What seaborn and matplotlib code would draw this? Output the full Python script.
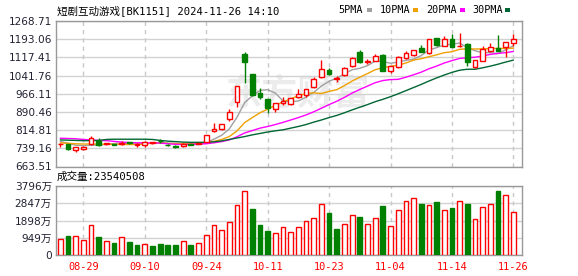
import numpy as np
import pandas as pd
import matplotlib
matplotlib.use("Agg")
import matplotlib.pyplot as plt
import seaborn as sns
from matplotlib.patches import Rectangle

# ---------------- data ----------------
dates = ["08-26", "08-27", "08-28", "08-29", "08-30",
         "09-02", "09-03", "09-04", "09-05", "09-06",
         "09-09", "09-10", "09-11", "09-12", "09-13",
         "09-18", "09-19", "09-20",
         "09-23", "09-24", "09-25", "09-26", "09-27", "09-30",
         "10-08", "10-09", "10-10", "10-11",
         "10-14", "10-15", "10-16", "10-17", "10-18",
         "10-21", "10-22", "10-23", "10-24", "10-25",
         "10-28", "10-29", "10-30", "10-31", "11-01",
         "11-04", "11-05", "11-06", "11-07", "11-08",
         "11-11", "11-12", "11-13", "11-14", "11-15",
         "11-18", "11-19", "11-20", "11-21", "11-22",
         "11-25", "11-26"]

opens = [756, 757, 732, 737, 756, 770, 757, 757, 759, 764,
         755, 755, 761, 771, 754, 747, 748, 757, 759, 766,
         810, 818, 860, 932, 1131, 1048, 970, 944, 904, 928,
         923, 951, 960, 993, 1035, 1065, 1028, 1044, 1081, 1141,
         1099, 1103, 1128, 1062, 1076, 1116, 1126, 1158, 1134, 1198,
         1165, 1194, 1163, 1173, 1078, 1103, 1145, 1155, 1159, 1176]
highs = [763, 759, 745, 748, 792, 782, 762, 758, 770, 766,
         760, 768, 766, 778, 756, 752, 760, 759, 762, 796,
         843, 840, 903, 1000, 1138, 1050, 990, 946, 928, 951,
         950, 986, 986, 1037, 1106, 1075, 1040, 1076, 1118, 1148,
         1110, 1131, 1130, 1083, 1122, 1145, 1150, 1169, 1195, 1200,
         1207, 1214, 1218, 1178, 1108, 1165, 1178, 1210, 1183, 1214]
lows = [746, 734, 722, 733, 754, 750, 755, 752, 755, 758,
        745, 743, 758, 762, 750, 740, 743, 753, 756, 764,
        808, 815, 854, 912, 1010, 958, 946, 887, 889, 918,
        921, 949, 954, 990, 1032, 1044, 1015, 1042, 1079, 1092,
        1090, 1101, 1060, 1051, 1074, 1110, 1124, 1138, 1132, 1165,
        1163, 1160, 1160, 1083, 1075, 1101, 1140, 1142, 1117, 1165]
closes = [756, 736, 743, 746, 781, 752, 760, 755, 760, 760,
          755, 765, 764, 769, 751, 745, 758, 755, 760, 794,
          819, 839, 889, 998, 1099, 962, 951, 905, 926, 935,
          948, 965, 984, 1026, 1068, 1047, 1030, 1072, 1114, 1097,
          1101, 1124, 1062, 1081, 1120, 1137, 1148, 1140, 1193, 1170,
          1193, 1162, 1165, 1100, 1106, 1151, 1162, 1144, 1181, 1194]

ma5 = [768, 760, 752, 750, 752, 752, 756, 759, 762, 757,
       758, 759, 761, 763, 761, 759, 758, 756, 754, 763,
       777, 793, 820, 868, 929, 957, 980, 983, 969, 936,
       933, 936, 952, 972, 998, 1018, 1031, 1049, 1066, 1072,
       1083, 1102, 1100, 1093, 1098, 1105, 1110, 1125, 1148, 1158,
       1169, 1172, 1177, 1158, 1145, 1137, 1137, 1133, 1149, 1166]
ma10 = [762, 760, 758, 757, 757, 756, 756, 756, 755, 755,
        755, 758, 760, 762, 759, 759, 759, 759, 759, 762,
        768, 776, 788, 811, 846, 867, 887, 902, 918, 932,
        945, 958, 967, 970, 967, 976, 983, 1000, 1019, 1035,
        1050, 1066, 1074, 1080, 1085, 1094, 1106, 1112, 1120, 1128,
        1137, 1141, 1151, 1153, 1152, 1153, 1154, 1155, 1154, 1156]
ma20 = [781, 780, 779, 776, 774, 772, 771, 768, 765, 763,
        762, 762, 761, 761, 758, 756, 755, 756, 757, 758,
        762, 767, 774, 787, 803, 813, 823, 830, 838, 847,
        857, 867, 878, 891, 906, 921, 935, 951, 969, 984,
        998, 1012, 1021, 1025, 1026, 1035, 1045, 1056, 1070, 1081,
        1094, 1104, 1113, 1116, 1118, 1123, 1130, 1134, 1137, 1142]
ma30 = [774, 773, 772, 771, 771, 772, 776, 777, 777, 777,
        777, 777, 776, 772, 769, 767, 765, 764, 764, 764,
        766, 770, 776, 782, 788, 795, 801, 807, 812, 816,
        823, 830, 838, 848, 857, 867, 876, 887, 899, 910,
        921, 933, 943, 954, 966, 979, 992, 1005, 1019, 1032,
        1044, 1055, 1064, 1068, 1068, 1074, 1081, 1089, 1098, 1106]

volumes = [877, 1058, 1041, 838, 1660, 1003, 784, 674, 986, 729,
           564, 619, 510, 619, 564, 564, 784, 564, 674, 1112,
           1660, 1386, 1808, 2756, 3507, 2537, 1660, 1332, 1204, 1533,
           1259, 1533, 1863, 2027, 2795, 2318, 1441, 1715, 2208, 2099,
           1715, 2027, 2702, 1606, 2482, 2976, 3124, 2811, 2756, 2921,
           2482, 2592, 2976, 2811, 1989, 2630, 2811, 3524, 3304, 2354]
vol_up = [1, 0, 1, 1, 1, 0, 1, 0, 1, 0,
          0, 1, 0, 0, 0, 0, 1, 0, 1, 1,
          1, 1, 1, 1, 1, 0, 0, 0, 1, 1,
          1, 1, 1, 1, 1, 0, 0, 1, 1, 0,
          1, 1, 0, 1, 1, 1, 1, 0, 1, 0,
          1, 0, 1, 0, 1, 1, 1, 0, 1, 1]

tick_dates = ["08-29", "09-10", "09-24", "10-11", "10-23", "11-04", "11-14", "11-26"]
price_ticks = [663.51, 739.16, 814.81, 890.46, 966.11, 1041.76, 1117.41, 1193.06, 1268.71]
vol_ticks = [0, 949, 1898, 2847, 3796]
vol_tick_labels = ["0", "949万", "1898万", "2847万", "3796万"]

title = "短剧互动游戏[BK1151] 2024-11-26 14:10"
vol_title = "成交量:23540508"
ma_names = ["5PMA", "10PMA", "20PMA", "30PMA"]
ma_colors = ["#a0a0a0", "#f0a000", "#ff00ff", "#006633"]

# ---------------- style ----------------
sns.set_style("white")
plt.rcParams['font.family'] = ['DejaVu Sans', 'Noto Sans CJK SC']
RED = "#ff0000"
GREEN = "#008000"
GRID = "#d2d2d2"
SPINE = "#999999"
LABEL = "#222233"
MONO_CJK = ['DejaVu Sans Mono', 'Noto Sans CJK SC']

W, H = 578, 276
fig = plt.figure(figsize=(W / 100, H / 100), dpi=100)
fig.patch.set_facecolor("white")


def box(l, t, r, b):
    return [l / W, 1 - b / H, (r - l) / W, (b - t) / H]


ax = fig.add_axes(box(56, 21, 522, 166.5))
axv = fig.add_axes(box(56, 186, 522, 255.3))

df = pd.DataFrame({"date": dates, "open": opens, "high": highs, "low": lows,
                   "close": closes, "ma5": ma5, "ma10": ma10, "ma20": ma20,
                   "ma30": ma30, "vol": volumes, "vol_up": vol_up})
df["x"] = np.arange(len(df))
up = df["close"] >= df["open"]
ccol = np.where(up, RED, GREEN)
tick_pos = [dates.index(d) for d in tick_dates]
xlim = (-0.56, 60.12)

# watermark
ax.text(0.52, 0.5, "东方财富", transform=ax.transAxes, ha="center", va="center",
        fontsize=26, fontweight="bold", color="#ececec", family=['Noto Sans CJK SC'],
        zorder=0, style="italic")

# MA lines
for col, c in zip(["ma5", "ma10", "ma20", "ma30"], ma_colors):
    sns.lineplot(data=df, x="x", y=col, ax=ax, color=c, lw=1, zorder=2, legend=False)

# candles
ax.vlines(df["x"], df["low"], df["high"], colors=ccol, lw=1, zorder=3)
body = (df["close"] - df["open"]).abs().clip(lower=0.8)
ax.bar(df["x"], body, bottom=np.minimum(df["open"], df["close"]), width=0.62,
       facecolor=np.where(up, "white", GREEN), edgecolor=ccol, linewidth=1, zorder=4)

ax.set_xlim(*xlim)
ax.set_ylim(price_ticks[0], price_ticks[-1])
ax.set_yticks(price_ticks)
ax.set_yticklabels([f"{v:.2f}" for v in price_ticks])
ax.set_xticks(tick_pos)
ax.set_xticklabels([])
ax.set_xlabel("")
ax.set_ylabel("")

# volume
vcol = np.where(df["vol_up"] == 1, RED, GREEN)
axv.bar(df["x"], df["vol"], width=0.62, facecolor=np.where(df["vol_up"] == 1, "white", GREEN),
        edgecolor=vcol, linewidth=1, zorder=3)
axv.set_xlim(*xlim)
axv.set_ylim(0, vol_ticks[-1])
axv.set_yticks(vol_ticks)
axv.set_yticklabels(vol_tick_labels)
axv.set_xticks(tick_pos)
axv.set_xticklabels(tick_dates, color=RED, family='DejaVu Sans Mono', fontsize=7.4)

for a in (ax, axv):
    a.grid(False)
    for y in a.get_yticks():
        a.axhline(y, color=GRID, lw=1, zorder=1)
    for xp in tick_pos:
        a.axvline(xp, color="#c8c8c8", lw=1, ls=(0, (3, 3)), zorder=1)
    for s in a.spines.values():
        s.set_color(SPINE)
        s.set_linewidth(1)
    a.tick_params(axis="y", length=0, pad=3, labelsize=7.6, labelcolor=LABEL)
    a.tick_params(axis="x", length=0, pad=5)

# title, legend, volume caption
fig.text(57 / W, 1 - 10.5 / H, title, ha="left", va="center", fontsize=7.6,
         family=MONO_CJK, color="black")
fig.text(57 / W, 1 - 177 / H, vol_title, ha="left", va="center", fontsize=7.6,
         family=MONO_CJK, color="black")
leg_x = [338, 380, 426, 472]
sq_x = [367, 413, 460, 505]
for name, c, lx, sx in zip(ma_names, ma_colors, leg_x, sq_x):
    fig.text(lx / W, 1 - 10 / H, name, ha="left", va="center", fontsize=7.3,
             family='DejaVu Sans Mono', color="black")
    fig.add_artist(Rectangle((sx / W, 1 - 12 / H), 5 / W, 4 / H, transform=fig.transFigure,
                             facecolor=c, edgecolor="none"))

fig.savefig("out.png", dpi=100)
